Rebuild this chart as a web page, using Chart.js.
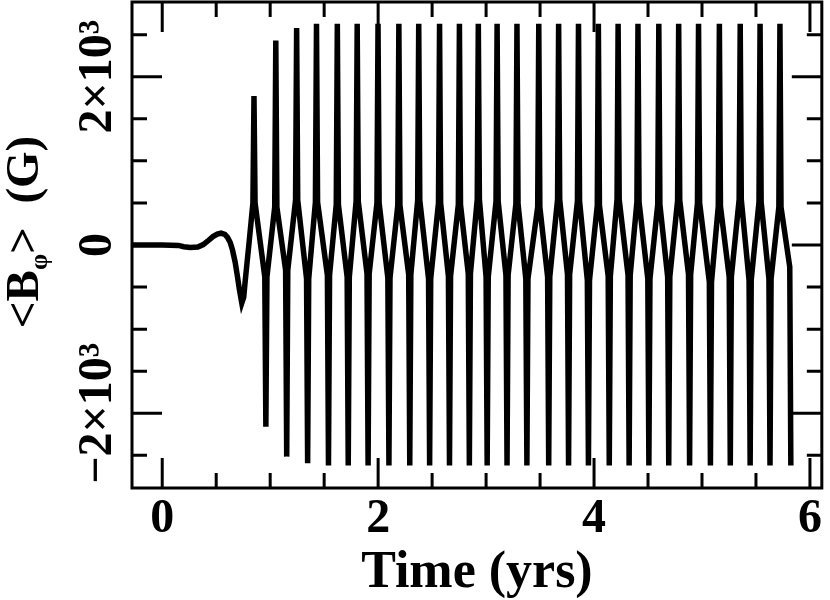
<!DOCTYPE html>
<html lang="en">
<head>
    <meta charset="UTF-8">
    <title>Azimuthal field vs time</title>
    <script src="https://cdn.jsdelivr.net/npm/chart.js"></script>
    <style>
        body { margin: 0; background: #fff; }
        canvas { display: block; }
    </style>
</head>
<body>
    <canvas id="fieldChart" width="830" height="600"></canvas>

    <script>
        // onset of the field, then each reversal as (level, spike tip, level)
        var timeYrs = [
            -0.28, 0.00, 0.15, 0.20, 0.26, 0.33, 0.38, 0.42, 0.47, 0.51, 0.545, 0.58,
            0.605, 0.63, 0.651, 0.675, 0.697, 0.715, 0.737, 0.755, 0.767, 0.785, 0.804, 0.825,
            0.840, 0.850, 0.860,   0.950, 0.960, 0.970,
            1.042, 1.052, 1.062,   1.143, 1.153, 1.163,
            1.235, 1.245, 1.255,   1.337, 1.347, 1.357,
            1.419, 1.429, 1.439,   1.530, 1.540, 1.550,
            1.612, 1.622, 1.632,   1.713, 1.723, 1.733,
            1.796, 1.806, 1.816,   1.897, 1.907, 1.917,
            1.989, 1.999, 2.009,   2.090, 2.100, 2.110,
            2.182, 2.192, 2.202,   2.283, 2.293, 2.303,
            2.366, 2.376, 2.386,   2.467, 2.477, 2.487,
            2.559, 2.569, 2.579,   2.651, 2.661, 2.671,
            2.743, 2.753, 2.763,   2.835, 2.845, 2.855,
            2.918, 2.928, 2.938,   3.000, 3.010, 3.020,
            3.092, 3.102, 3.112,   3.184, 3.194, 3.204,
            3.276, 3.286, 3.296,   3.368, 3.378, 3.388,
            3.478, 3.488, 3.498,   3.570, 3.580, 3.590,
            3.662, 3.672, 3.682,   3.754, 3.764, 3.774,
            3.846, 3.856, 3.866,   3.938, 3.948, 3.958,
            4.030, 4.040, 4.050,   4.131, 4.141, 4.151,
            4.213, 4.223, 4.233,   4.315, 4.325, 4.335,
            4.397, 4.407, 4.417,   4.498, 4.508, 4.518,
            4.590, 4.600, 4.610,   4.682, 4.692, 4.702,
            4.774, 4.784, 4.794,   4.875, 4.885, 4.895,
            4.958, 4.968, 4.978,   5.068, 5.078, 5.088,
            5.151, 5.161, 5.171,   5.252, 5.262, 5.272,
            5.344, 5.354, 5.364,   5.436, 5.446, 5.456,
            5.528, 5.538, 5.548,   5.620, 5.630, 5.640,
            5.712, 5.722, 5.732,   5.813, 5.823
        ];
        var bPhi = [
            0, 0, -5, -20, -30, -25, 5, 45, 100, 130, 140, 125,
            90, 30, -60, -200, -376, -530, -690, -620, -450, -220, 20, 300,
            500, 1770, 500,     -380, -2160, -380,
            450, 2430, 450,     -300, -2515, -300,
            535, 2580, 535,     -400, -2595, -400,
            510, 2630, 510,     -360, -2620, -360,
            480, 2630, 480,     -380, -2620, -380,
            520, 2630, 520,     -340, -2620, -340,
            500, 2630, 500,     -390, -2620, -390,
            470, 2630, 470,     -350, -2620, -350,
            530, 2630, 530,     -400, -2620, -400,
            500, 2630, 500,     -370, -2620, -370,
            480, 2630, 480,     -340, -2620, -340,
            540, 2630, 540,     -380, -2620, -380,
            520, 2630, 520,     -360, -2620, -360,
            490, 2630, 490,     -400, -2620, -400,
            450, 2630, 450,     -380, -2620, -380,
            540, 2630, 540,     -350, -2620, -350,
            520, 2630, 520,     -420, -2620, -420,
            470, 2630, 470,     -370, -2620, -370,
            540, 2630, 540,     -360, -2620, -360,
            510, 2630, 510,     -400, -2620, -400,
            480, 2630, 480,     -380, -2620, -380,
            530, 2630, 530,     -350, -2620, -350,
            500, 2630, 500,     -440, -2620, -440,
            460, 2630, 460,     -380, -2620, -380,
            540, 2630, 540,     -420, -2620, -420,
            510, 2630, 510,     -400, -2620, -400,
            450, 2630, 450,     -260, -2620
        ];

        var xTickLabels = [0, 2, 4, 6];
        var xMinorTicks = [0.5, 1, 1.5, 2.5, 3, 3.5, 4.5, 5, 5.5];
        var yTickValues = [-2000, 0, 2000];
        var yTickLabels = ["\u22122\u00d710\u00b3", "0", "2\u00d710\u00b3"];
        var yMinorTicks = [-2500, -1500, -1000, -500, 500, 1000, 1500, 2500];

        var serif = "'Liberation Serif', 'DejaVu Serif', serif";

        var points = timeYrs.map(function(t, i) { return { x: t, y: bPhi[i] }; });

        // frame with inward ticks on all four sides, rotated y labels and y title
        var framePlugin = {
            id: "framePlugin",
            afterDatasetsDraw: function(chart) {
                var ctx = chart.ctx, a = chart.chartArea;
                var xs = chart.scales.x, ys = chart.scales.y;
                ctx.save();
                ctx.strokeStyle = "#000";
                ctx.lineWidth = 3;
                ctx.strokeRect(a.left, a.top, a.right - a.left, a.bottom - a.top);

                ctx.lineWidth = 3;
                ctx.beginPath();
                function xTick(v, len) {
                    var px = xs.getPixelForValue(v);
                    ctx.moveTo(px, a.bottom); ctx.lineTo(px, a.bottom - len);
                    ctx.moveTo(px, a.top); ctx.lineTo(px, a.top + len);
                }
                function yTick(v, len) {
                    var py = ys.getPixelForValue(v);
                    ctx.moveTo(a.left, py); ctx.lineTo(a.left + len, py);
                    ctx.moveTo(a.right, py); ctx.lineTo(a.right - len, py);
                }
                xTickLabels.forEach(function(v) { xTick(v, 30); });
                xMinorTicks.forEach(function(v) { xTick(v, 15); });
                yTickValues.forEach(function(v) { yTick(v, 30); });
                yMinorTicks.forEach(function(v) { yTick(v, 15); });
                ctx.stroke();

                // y tick labels, reading bottom to top
                ctx.fillStyle = "#000";
                ctx.font = "bold 48px " + serif;
                ctx.textAlign = "center";
                ctx.textBaseline = "alphabetic";
                yTickValues.forEach(function(v, i) {
                    ctx.save();
                    ctx.translate(111, ys.getPixelForValue(v));
                    ctx.rotate(-Math.PI / 2);
                    ctx.fillText(yTickLabels[i], 0, 0);
                    ctx.restore();
                });

                // y title: <B_phi> (G)
                var parts = [
                    { text: "<B", font: "bold 47px " + serif, dy: 0 },
                    { text: "\u03c6", font: "bold 26px " + serif, dy: 9 },
                    { text: ">  (G)", font: "bold 47px " + serif, dy: 0 }
                ];
                var total = 0;
                parts.forEach(function(p) { ctx.font = p.font; p.w = ctx.measureText(p.text).width; total += p.w; });
                ctx.save();
                ctx.translate(38, 232);
                ctx.rotate(-Math.PI / 2);
                ctx.textAlign = "left";
                var cx = -total / 2;
                parts.forEach(function(p) {
                    ctx.font = p.font;
                    ctx.fillText(p.text, cx, p.dy);
                    cx += p.w;
                });
                ctx.restore();
                ctx.restore();
            }
        };

        var fieldChart = new Chart(document.getElementById("fieldChart"), {
            type: "scatter",
            data: {
                datasets: [{
                    data: points,
                    showLine: true,
                    borderColor: "#000",
                    borderWidth: 5.5,
                    pointRadius: 0,
                    tension: 0
                }]
            },
            options: {
                responsive: false,
                animation: false,
                events: [],
                layout: { padding: { top: 2, right: 3, left: 0, bottom: 0 } },
                plugins: { legend: { display: false }, tooltip: { enabled: false } },
                scales: {
                    x: {
                        type: "linear",
                        min: -0.28,
                        max: 6.11,
                        grid: { display: false, drawTicks: false },
                        border: { display: false },
                        afterBuildTicks: function(s) {
                            s.ticks = xTickLabels.map(function(v) { return { value: v }; });
                        },
                        afterFit: function(s) { s.height = 112; },
                        ticks: {
                            autoSkip: false,
                            maxRotation: 0,
                            padding: 8,
                            color: "#000",
                            font: { family: serif, size: 48, weight: "bold", lineHeight: 1 },
                            callback: function(v) { return String(v); }
                        },
                        title: {
                            display: true,
                            text: "Time (yrs)",
                            color: "#000",
                            padding: { top: 0, bottom: 0 },
                            font: { family: serif, size: 52, weight: "bold", lineHeight: 1 }
                        }
                    },
                    y: {
                        type: "linear",
                        min: -2888,
                        max: 2888,
                        grid: { display: false, drawTicks: false },
                        border: { display: false },
                        ticks: { display: false },
                        afterFit: function(s) { s.width = 132; }
                    }
                }
            },
            plugins: [framePlugin]
        });
    </script>
</body>
</html>
